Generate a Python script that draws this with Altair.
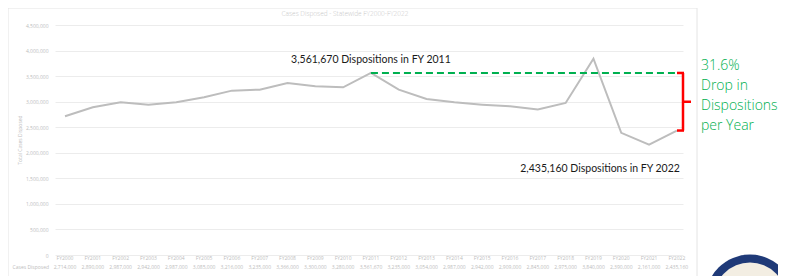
import altair as alt
import pandas as pd

# ---- data ----
years = list(range(2000, 2023))
cases = [2714000, 2890000, 2987000, 2942000, 2987000, 3085000, 3216000,
         3235000, 3366000, 3300000, 3280000, 3561670, 3235000, 3054000,
         2987000, 2942000, 2909000, 2845000, 2975000, 3840000, 2390000,
         2161000, 2435160]
fy_labels = [f"FY{y}" for y in years]
y_ticks = [0, 500000, 1000000, 1500000, 2000000, 2500000, 3000000,
           3500000, 4000000, 4500000]
title_text = "Cases Disposed - Statewide FY2000-FY2022"
y_title = "Total Cases Disposed"
series_name = "Cases Disposed"
peak_label = "3,561,670 Dispositions in FY 2011"
end_label = "2,435,160 Dispositions in FY 2022"
drop_lines = ["31.6%", "Drop in", "Dispositions", "per Year"]

W, H = 628, 230
GREEN = "#00b050"
GRAY_TXT = "#bdbdbd"
SMALL_FONT = "Open Sans"

df = pd.DataFrame({"year": years, "cases": cases, "fy": fy_labels})
one = alt.Chart(pd.DataFrame({"k": [0]}))

xs = alt.Scale(domain=[1999.64, 2022.22], nice=False, zero=False)
ys = alt.Scale(domain=[0, 4500000], nice=False)
y_axis = alt.Axis(values=y_ticks, labelExpr="format(datum.value, ',')",
                  labelFontSize=5, labelFont=SMALL_FONT, labelOverlap=False,
                  labelColor=GRAY_TXT, domain=False, ticks=False,
                  gridColor="#ececec", labelPadding=7, title=None)

x = alt.X("year:Q", scale=xs, axis=None)
y = alt.Y("cases:Q", scale=ys, axis=y_axis)

base = alt.Chart(df)

frame = one.mark_rect(fillOpacity=0, stroke="#e4e4e4", strokeWidth=1).encode(
    x=alt.value(-47), x2=alt.value(642), y=alt.value(-17), y2=alt.value(275))

line = base.mark_line(color="#bdbdbd", strokeWidth=2).encode(x=x, y=y)

row1 = base.mark_text(fontSize=5, color=GRAY_TXT, font=SMALL_FONT).encode(
    x=x, y=alt.value(233), text="fy:N")
row2 = base.transform_calculate(lab="format(datum.cases, ',')").mark_text(
    fontSize=5, color=GRAY_TXT, font=SMALL_FONT).encode(
    x=x, y=alt.value(242), text="lab:N")
series_lbl = one.mark_text(fontSize=5, color=GRAY_TXT, align="right",
                           font=SMALL_FONT).encode(
    x=alt.value(-6), y=alt.value(242), text=alt.value(series_name))

ytitle = one.mark_text(fontSize=5, color=GRAY_TXT, angle=270, font=SMALL_FONT).encode(
    x=alt.value(-35), y=alt.value(115), text=alt.value(y_title))
title = one.mark_text(fontSize=6.5, color="#c8c8c8", font=SMALL_FONT,
                      fontWeight=300).encode(
    x=alt.value(290), y=alt.value(-11), text=alt.value(title_text))

peak = base.transform_filter("datum.year == 2011")
peak_txt = peak.mark_text(dy=-13, fontSize=10.5, font="Lato", color="#1a1a1a").encode(
    x=x, y=y, text=alt.value(peak_label))
dash = peak.mark_rule(color=GREEN, strokeDash=[7, 4], strokeWidth=2).encode(
    x=x, x2=alt.value(622), y=y)

end = base.transform_filter("datum.year == 2022")
end_txt = end.mark_text(dy=38, dx=3, align="right", fontSize=10.5, font="Lato",
                        color="#1a1a1a").encode(x=x, y=y, text=alt.value(end_label))

bdf = pd.DataFrame({"cases": [cases[11]], "cases2": [cases[22]],
                    "mid": [(cases[11] + cases[22]) / 2]})
bb = alt.Chart(bdf)
RED = "#ff0000"
b_v = bb.mark_rule(color=RED, strokeWidth=2.5).encode(
    x=alt.value(628), y=y, y2="cases2:Q")
b_t = bb.mark_rule(color=RED, strokeWidth=2.5).encode(
    x=alt.value(622), x2=alt.value(629), y=y)
b_b = bb.mark_rule(color=RED, strokeWidth=2.5).encode(
    x=alt.value(622), x2=alt.value(629), y=alt.Y("cases2:Q", scale=ys, axis=y_axis))
b_m = bb.mark_rule(color=RED, strokeWidth=2.5).encode(
    x=alt.value(628), x2=alt.value(636), y=alt.Y("mid:Q", scale=ys, axis=y_axis))

drop_txt = one.mark_text(align="left", baseline="top", fontSize=14, lineHeight=20,
                         font="Open Sans", fontWeight=300, color=GREEN).encode(
    x=alt.value(646), y=alt.value(34), text=alt.value(drop_lines))

seal_o = one.mark_point(filled=True, shape="circle", size=7900, color="#1f3a78",
                        opacity=1).encode(x=alt.value(695), y=alt.value(274))
seal_i = one.mark_point(filled=True, shape="circle", size=5300, color="#f3eee3",
                        opacity=1).encode(x=alt.value(695), y=alt.value(274))

chart = alt.layer(frame, line, row1, row2, series_lbl, ytitle, title, dash,
                  peak_txt, end_txt, b_v, b_t, b_b, b_m, drop_txt,
                  seal_o, seal_i).properties(
    width=W, height=H, autosize="none",
    padding={"left": 47, "top": 17, "right": 95, "bottom": 21}
).configure_view(strokeWidth=0)

chart.save("out.html", embed_options={"renderer": "svg", "actions": False})
